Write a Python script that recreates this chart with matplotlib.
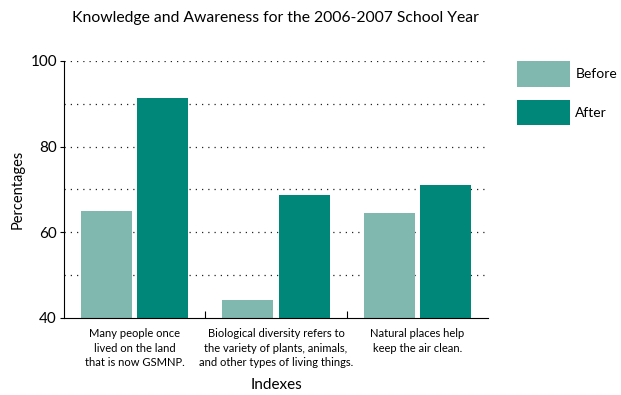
import numpy as np
import matplotlib.pyplot as plt
import matplotlib

# data
categories = ["Many people once\nlived on the land\nthat is now GSMNP.",
              "Biological diversity refers to\nthe variety of plants, animals,\nand other types of living things.",
              "Natural places help\nkeep the air clean."]
before = [65.0, 44.2, 64.5]
after = [91.4, 68.7, 71.0]

BEFORE_COLOR = "#80b8b0"
AFTER_COLOR = "#00877a"
FONT = "Lato"

matplotlib.rcParams.update({'font.family': FONT})

fig = plt.figure(figsize=(6.21, 3.95), dpi=100)
ax = fig.add_axes([0.103, 0.195, 0.683, 0.651])

xs = np.arange(len(categories))
width = 0.36
offset = 0.2

ax.bar(xs - offset, before, width, color=BEFORE_COLOR, label="Before", zorder=2)
ax.bar(xs + offset, after, width, color=AFTER_COLOR, label="After", zorder=2)

ax.set_xlim(-0.5, len(categories) - 0.5)
ax.set_ylim(40, 100)

# dotted grid every 10, labels every 20
ax.set_yticks([40, 60, 80, 100])
ax.tick_params(axis='y', which='major', length=3, labelsize=11, pad=2)
for y in [50, 60, 70, 80, 90, 100]:
    ax.axhline(y, color="#222222", linewidth=0.9, linestyle=(0, (1, 4)), zorder=1)

# category labels placed at centres, ticks at the boundaries
ax.set_xticks(xs[:-1] + 0.5)
ax.set_xticklabels([])
ax.tick_params(axis='x', direction='in', length=5)
for x, label in zip(xs, categories):
    ax.text(x, 37.6, label, ha='center', va='top', fontsize=8, linespacing=1.4)

for side in ["top", "right"]:
    ax.spines[side].set_visible(False)

ax.set_ylabel("Percentages", fontsize=10.5, labelpad=4)
ax.text(1, 24.4, "Indexes", ha='center', va='center', fontsize=11)

fig.text(0.444, 0.955, "Knowledge and Awareness for the 2006-2007 School Year",
         ha='center', va='center', fontsize=11.3)

ax.legend(loc='upper left', bbox_to_anchor=(1.055, 1.02), frameon=False,
          fontsize=10, handlelength=3.85, handleheight=2.45,
          labelspacing=0.95, handletextpad=0.35, borderaxespad=0)

fig.savefig("out.png", dpi=100)
